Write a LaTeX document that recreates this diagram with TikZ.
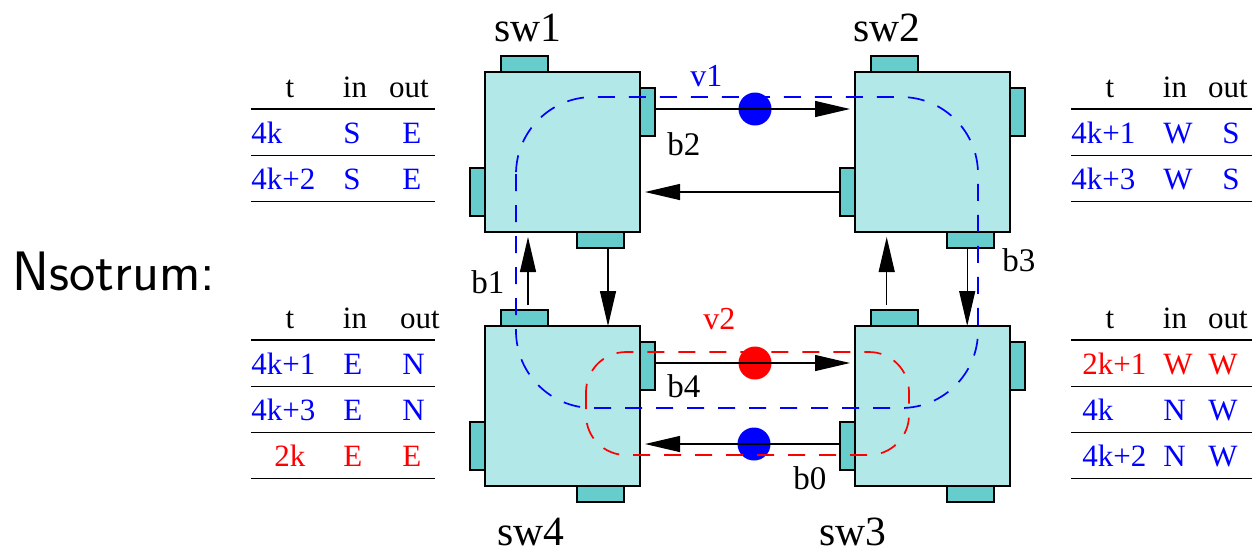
\documentclass[tikz,border=0pt]{standalone}
\usepackage{fontspec}
\setmainfont{Liberation Serif}
\usepackage{tikz}
\usetikzlibrary{arrows.meta,positioning,calc}
\definecolor{swFill}{HTML}{B2E8E8}
\definecolor{portFill}{HTML}{66CDCC}
\definecolor{vcBlue}{HTML}{0000FF}
\definecolor{vcRed}{HTML}{FF0000}
\tikzset{
  swbox/.style={draw, fill=swFill, line width=0.7pt, minimum width=77.5pt, minimum height=80pt,
                inner sep=0pt, outer sep=0pt},
  porth/.style={draw, fill=portFill, line width=0.7pt, minimum width=23.5pt, minimum height=8pt,
                inner sep=0pt, outer sep=0pt},
  portv/.style={porth, minimum width=7.5pt, minimum height=24pt},
  flow/.style={-{Triangle[length=17.5pt, width=8pt]}, line width=0.6pt},
  vcpath/.style={dash pattern=on 8.5pt off 7pt, line width=0.85pt},
  vcdot/.style={circle, minimum size=16.5pt, inner sep=0pt},
  swlabel/.style={font=\fontsize{20.8}{24}\selectfont, anchor=base, inner sep=0pt},
  tabtext/.style={font=\fontsize{15.5}{18}\selectfont, anchor=base, inner sep=0pt},
  trule/.style={line width=0.7pt},
  buflabel/.style={font=\fontsize{16.5}{19}\selectfont, anchor=base west, inner sep=0pt},
}
\begin{document}
\begin{tikzpicture}[x=0.5pt, y=-0.5pt]
  \useasboundingbox (0,0) rectangle (1252,554);
  % switches and their ports
  \node[swbox] (sw1) at (562.5,152) {};
  \node[swbox, right=107.5pt of sw1] (sw2) {};
  \node[swbox, below=47pt of sw1] (sw4) {};
  \node[swbox, right=107.5pt of sw4] (sw3) {};
  \foreach \s in {sw1,sw2,sw3,sw4} {
    \node[porth, anchor=south west] (\s-n) at ([xshift=8pt]\s.north west) {};
    \node[portv, anchor=north west] (\s-e) at ([yshift=-8pt]\s.north east) {};
    \node[porth, anchor=north east] (\s-s) at ([xshift=-8pt]\s.south east) {};
    \node[portv, anchor=south east] (\s-w) at ([yshift=8pt]\s.south west) {};
  }
  \node[swlabel] (l1) at (528,41) {sw1};
  \node[swlabel] (l2) at (887,41) {sw2};
  \node[swlabel] (l4) at (531,545) {sw4};
  \node[swlabel] (l3) at (853,545) {sw3};

  % links
  \coordinate (a12) at ([yshift=1.5pt]sw1-e.east);
  \coordinate (a21) at (sw2-w.west);
  \coordinate (a43) at ([yshift=1.5pt]sw4-e.east);
  \coordinate (a34) at ([yshift=1pt]sw3-w.west);
  \coordinate (a14) at ([xshift=3.75pt]sw1-s.south);
  \coordinate (a41) at ([shift={(1.75pt,2.5pt)}]sw4-n.north);
  \coordinate (a23) at ([xshift=-1.65pt]sw2-s.south);
  \coordinate (a32) at ([shift={(-3.9pt,2.5pt)}]sw3-n.north);
  \path (a12) -- (a12 -| sw2.west) node[vcdot, fill=vcBlue, pos=.5] (dot1) {};
  \path (a43) -- (a43 -| sw3.west) node[vcdot, fill=vcRed, pos=.5] (dot2) {};
  \path (a34) -- (a34 -| sw4.east) node[vcdot, fill=vcBlue, pos=.43] (dot3) {};
  \draw[flow, shorten >=2.5pt] (a12) -- (a12 -| sw2.west);
  \draw[flow, shorten >=2.5pt] (a21) -- (a21 -| sw1.east);
  \draw[flow, shorten >=2.5pt] (a43) -- (a43 -| sw3.west);
  \draw[flow, shorten >=2.5pt] (a34) -- (a34 -| sw4.east);
  \draw[flow] (a14) -- (a14 |- sw4.north);
  \draw[flow] (a23) -- (a23 |- sw3.north);
  \draw[flow, shorten >=2.5pt] (a41) -- (a41 |- sw1.south);
  \draw[flow, shorten >=2.5pt] (a32) -- (a32 |- sw2.south);
  \node[buflabel] (b0) at (793,489) {b0};
  \node[buflabel] (b1) at (471,293) {b1};
  \node[buflabel] (b2) at (667,155) {b2};
  \node[buflabel] (b3) at (1002,271) {b3};
  \node[buflabel] (b4) at (667,397) {b4};

  % virtual channels
  \draw[vcpath, draw=vcBlue, rounded corners=38.5pt]
    ([shift={(-23.25pt,27.5pt)}]sw1.center) rectangle ([shift={(22.75pt,-1pt)}]sw3.center);
  \draw[vcpath, draw=vcRed, rounded corners=20pt]
    ([shift={(11.75pt,27pt)}]sw4.center) rectangle ([shift={(-11.75pt,-24.5pt)}]sw3.center);
  \node[buflabel, font=\fontsize{16}{19}\selectfont, text=vcBlue] (v1) at (690,86) {v1};
  \node[buflabel, font=\fontsize{16}{19}\selectfont, text=vcRed] (v2) at (703,329) {v2};

  \node[anchor=base west, inner sep=0pt, font=\sffamily\fontsize{27.8}{32}\selectfont] (title) at (12,290) {Nsotrum:};

  % routing tables
  \begin{scope}[shift={(251,97)}]
    \foreach \h/\x in {t/39, in/104, out/158} \node[tabtext] (tl-\h) at (\x,0) {\h};
    \draw[trule] (0,12) -- (184,12);
    \foreach \a/\b/\c/\col/\dx [count=\r] in {4k/S/E/vcBlue/0, 4k+2/S/E/vcBlue/0} {
      \node[tabtext, anchor=base west, text=\col] (tl-\r-t) at (\dx,46.2*\r) {\a};
      \node[tabtext, anchor=base west, text=\col] (tl-\r-i) at (92,46.2*\r) {\b};
      \node[tabtext, anchor=base west, text=\col] (tl-\r-o) at (151,46.2*\r) {\c};
      \draw[trule] (0,46.2*\r+12) -- (184,46.2*\r+12);
    }
  \end{scope}
  \begin{scope}[shift={(1071,97)}]
    \foreach \h/\x in {t/39, in/104, out/157} \node[tabtext] (tr-\h) at (\x,0) {\h};
    \draw[trule] (0,12) -- (181,12);
    \foreach \a/\b/\c/\col/\dx [count=\r] in {4k+1/W/S/vcBlue/0, 4k+3/W/S/vcBlue/0} {
      \node[tabtext, anchor=base west, text=\col] (tr-\r-t) at (\dx,46.2*\r) {\a};
      \node[tabtext, anchor=base west, text=\col] (tr-\r-i) at (92,46.2*\r) {\b};
      \node[tabtext, anchor=base west, text=\col] (tr-\r-o) at (151,46.2*\r) {\c};
      \draw[trule] (0,46.2*\r+12) -- (181,46.2*\r+12);
    }
  \end{scope}
  \begin{scope}[shift={(251,328)}]
    \foreach \h/\x in {t/39, in/104, out/169} \node[tabtext] (bl-\h) at (\x,0) {\h};
    \draw[trule] (0,12) -- (184,12);
    \foreach \a/\b/\c/\col/\dx [count=\r] in {4k+1/E/N/vcBlue/0, 4k+3/E/N/vcBlue/0, 2k/E/E/vcRed/23} {
      \node[tabtext, anchor=base west, text=\col] (bl-\r-t) at (\dx,46.2*\r) {\a};
      \node[tabtext, anchor=base west, text=\col] (bl-\r-i) at (92,46.2*\r) {\b};
      \node[tabtext, anchor=base west, text=\col] (bl-\r-o) at (151,46.2*\r) {\c};
      \draw[trule] (0,46.2*\r+12) -- (184,46.2*\r+12);
    }
  \end{scope}
  \begin{scope}[shift={(1071,328)}]
    \foreach \h/\x in {t/39, in/104, out/157} \node[tabtext] (br-\h) at (\x,0) {\h};
    \draw[trule] (0,12) -- (181,12);
    \foreach \a/\b/\c/\col/\dx [count=\r] in {2k+1/W/W/vcRed/11, 4k/N/W/vcBlue/11, 4k+2/N/W/vcBlue/11} {
      \node[tabtext, anchor=base west, text=\col] (br-\r-t) at (\dx,46.2*\r) {\a};
      \node[tabtext, anchor=base west, text=\col] (br-\r-i) at (92,46.2*\r) {\b};
      \node[tabtext, anchor=base west, text=\col] (br-\r-o) at (137,46.2*\r) {\c};
      \draw[trule] (0,46.2*\r+12) -- (181,46.2*\r+12);
    }
  \end{scope}
\end{tikzpicture}
\end{document}
